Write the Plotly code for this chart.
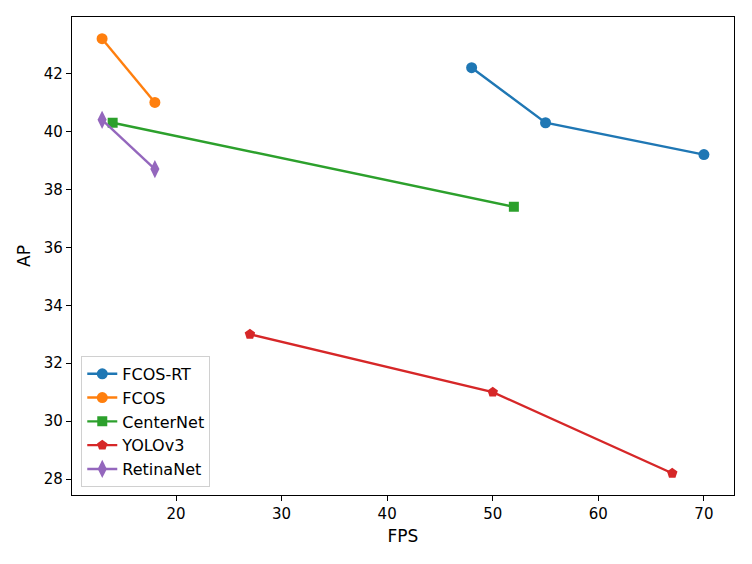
import plotly.graph_objects as go

# FPS / AP pairs per detector
fcos_rt_fps = [48, 55, 70]
fcos_rt_ap = [42.2, 40.3, 39.2]

fcos_fps = [13, 18]
fcos_ap = [43.2, 41.0]

centernet_fps = [14, 52]
centernet_ap = [40.3, 37.4]

yolov3_fps = [27, 50, 67]
yolov3_ap = [33.0, 31.0, 28.2]

retinanet_fps = [13, 18]
retinanet_ap = [40.4, 38.7]

x_ticks = [20, 30, 40, 50, 60, 70]
y_ticks = [28, 30, 32, 34, 36, 38, 40, 42]

series = [
    ("FCOS-RT", fcos_rt_fps, fcos_rt_ap, "#1f77b4", "circle", 11),
    ("FCOS", fcos_fps, fcos_ap, "#ff7f0e", "circle", 11),
    ("CenterNet", centernet_fps, centernet_ap, "#2ca02c", "square", 10),
    ("YOLOv3", yolov3_fps, yolov3_ap, "#d62728", "pentagon", 11),
    ("RetinaNet", retinanet_fps, retinanet_ap, "#9467bd", "diamond-tall", 13),
]

fig = go.Figure()
for name, xs, ys, color, symbol, size in series:
    fig.add_trace(go.Scatter(x=xs, y=ys,
                        mode='lines+markers',
                        name=name,
                        line=dict(color=color, width=2.4),
                        marker=dict(symbol=symbol, size=size, color=color)))

axis_style = dict(
    showgrid=False,
    zeroline=False,
    showline=True,
    linecolor="black",
    linewidth=1.2,
    mirror=True,
    ticks="outside",
    ticklen=5,
    tickwidth=1.2,
    tickcolor="black",
    tickfont=dict(size=15, color="black"),
    automargin=False,
)

# the page body adds ~8px offset, so the figure is a bit smaller than the window
fig.update_layout(
    width=744,
    height=556,
    plot_bgcolor="white",
    paper_bgcolor="white",
    font=dict(family="DejaVu Sans", size=14.5, color="black"),
    margin=dict(l=64, r=18, t=9, b=69),
    xaxis=dict(title=dict(text="FPS", standoff=8), range=[10.15, 72.85],
               tickvals=x_ticks, **axis_style),
    yaxis=dict(title=dict(text="AP", standoff=8), range=[27.45, 43.95],
               tickvals=y_ticks, **axis_style),
    legend=dict(x=0.014, y=0.017, xanchor="left", yanchor="bottom",
                bgcolor="white", bordercolor="#d0d0d0", borderwidth=1,
                font=dict(size=16), tracegroupgap=0),
    showlegend=True,
)

fig.write_html("out.html")
